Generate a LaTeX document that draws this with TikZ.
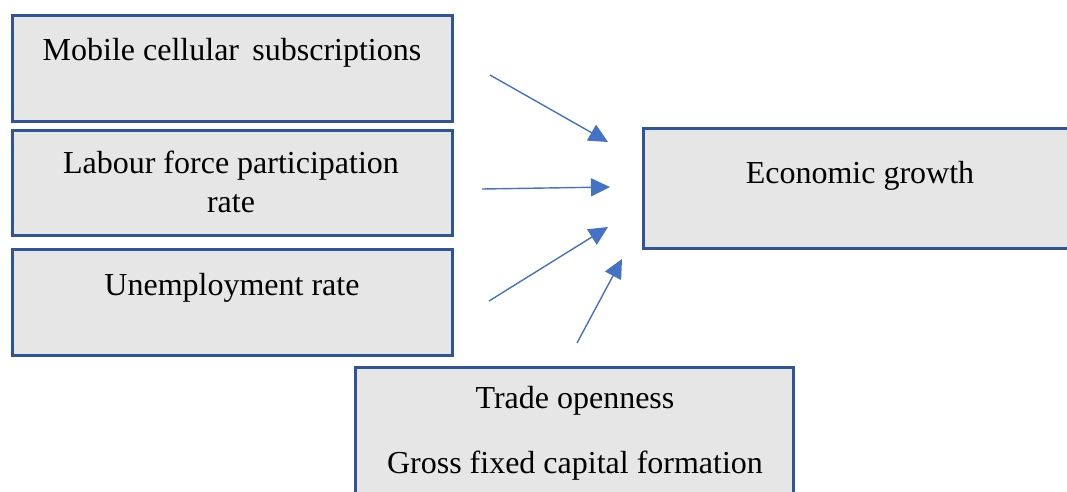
\documentclass[tikz,border=0pt]{standalone}
\usepackage{fontspec}
\setmainfont{Liberation Serif}
\usetikzlibrary{arrows.meta}
\definecolor{boxline}{HTML}{2F5597}
\definecolor{boxfill}{HTML}{E6E6E6}
\definecolor{arrowblue}{HTML}{4472C4}
\tikzset{
  varbox/.style={draw=boxline, fill=boxfill, line width=3pt, rectangle, anchor=north west, inner sep=0pt, outer sep=0pt},
  lbl/.style={anchor=base, inner sep=0pt, font=\fontsize{32}{37}\selectfont},
  link/.style={draw=arrowblue, line width=1.4pt, -{Triangle[length=19pt,width=18pt]}}
}
\begin{document}
\begin{tikzpicture}[x=1pt,y=-1pt]
\useasboundingbox (0,0) rectangle (1067,491);
\clip (0,0) rectangle (1067,491);
\fill[white] (0,0) rectangle (1067,491);
% boxes
\node[varbox, minimum width=440pt, minimum height=106pt] (mob) at (12,15) {};
\node[varbox, minimum width=440pt, minimum height=105pt] (lab) at (12,130) {};
\node[varbox, minimum width=440pt, minimum height=106pt] (une) at (12,249) {};
\node[varbox, minimum width=450pt, minimum height=120pt] (eco) at (643,128) {};
\node[varbox, minimum width=438pt, minimum height=200pt] (tra) at (355,367) {};
% labels
\node[lbl] (tmob) at (232,60) {Mobile cellular\, subscriptions};
\node[lbl] (tlab1) at (231,173) {Labour force participation};
\node[lbl] (tlab2) at (231,212) {rate};
\node[lbl] (tune) at (232,295) {Unemployment rate};
\node[lbl] (teco) at (860,183) {Economic growth};
\node[lbl] (ttra1) at (575,408) {Trade openness};
\node[lbl] (ttra2) at (575,473) {Gross fixed capital formation};
% arrow ends
\coordinate (s1) at (490,75);
\coordinate (e1) at (608,142);
\coordinate (s2) at (482,189);
\coordinate (e2) at (610,187);
\coordinate (s3) at (489,301);
\coordinate (e3) at (608,227);
\coordinate (s4) at (577,343);
\coordinate (e4) at (622,259);
\draw[link] (s1) -- (e1);
\draw[link] (s2) -- (e2);
\draw[link] (s3) -- (e3);
\draw[link] (s4) -- (e4);
\end{tikzpicture}
\end{document}
